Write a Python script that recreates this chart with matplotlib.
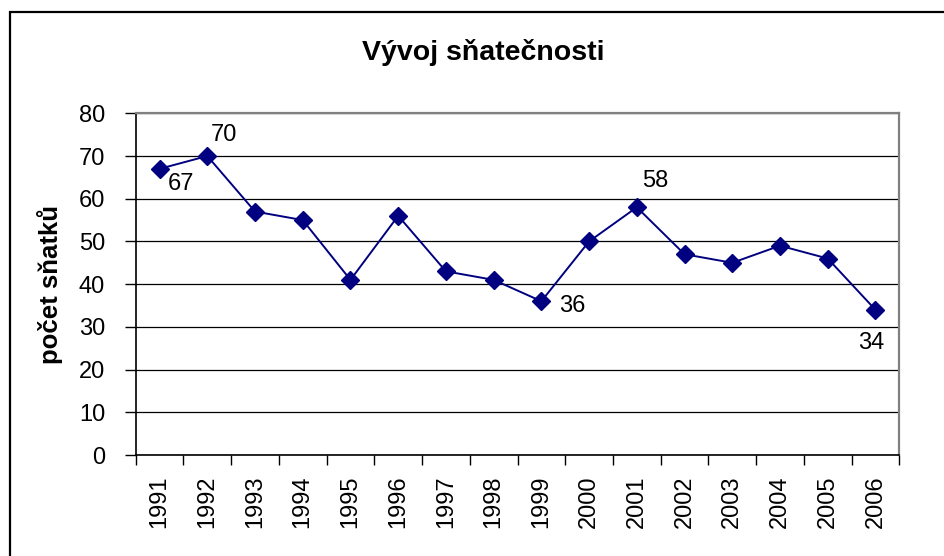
import matplotlib
matplotlib.use("Agg")
import matplotlib.pyplot as plt
from matplotlib.patches import Rectangle

plt.rcParams['font.family'] = ['Liberation Sans', 'DejaVu Sans']

years = ['1991', '1992', '1993', '1994', '1995', '1996', '1997', '1998',
         '1999', '2000', '2001', '2002', '2003', '2004', '2005', '2006']
values = [67, 70, 57, 55, 41, 56, 43, 41, 36, 50, 58, 47, 45, 49, 46, 34]
yticks = [0, 10, 20, 30, 40, 50, 60, 70, 80]
title = 'Vývoj sňatečnosti'
ylabel = 'počet sňatků'

# labelled points: index -> (dx, dy, ha, va) in pixels
label_pos = {
    0: (8, -4, 'left', 'top'),
    1: (3, 10, 'left', 'bottom'),
    8: (18, -5, 'left', 'center'),
    10: (5, 15, 'left', 'bottom'),
    15: (-4, -22, 'center', 'top'),
}

W, H = 944, 556
fig = plt.figure(figsize=(W / 100, H / 100), dpi=100)
fig.patch.set_facecolor('white')

# outer chart frame
fig.add_artist(Rectangle((9.5 / W, 0 - 0.1), 1.2, (H - 11.7) / H + 0.1,
                         transform=fig.transFigure, fill=False,
                         edgecolor='black', linewidth=1.6))

ax = fig.add_axes([135.7 / W, 1 - 455 / H, (899.3 - 135.7) / W, (455 - 113.3) / H])
x = list(range(len(years)))
ax.plot(x, values, color='#000080', linewidth=1.4, marker='D', markersize=9,
        markerfacecolor='#000080', markeredgecolor='#000080', zorder=3)

ax.set_xlim(-0.5, len(years) - 0.5)
ax.set_ylim(yticks[0], yticks[-1])
ax.set_yticks(yticks)
ax.set_yticklabels([str(v) for v in yticks], fontsize=17)
ax.set_xticks([i + 0.5 for i in range(-1, len(years))], minor=False)
ax.set_xticklabels([])
ax.set_xticks(x, minor=True)
ax.set_xticklabels(years, minor=True, rotation=90, fontsize=17)
ax.tick_params(axis='x', which='minor', length=0, pad=15)
ax.tick_params(axis='x', which='major', length=7, width=1, color='black', direction='out')
ax.tick_params(axis='y', length=8, width=1, color='black', direction='out', pad=14)

ax.yaxis.grid(True, color='black', linewidth=0.9)
ax.set_axisbelow(True)
for s in ['top', 'right']:
    ax.spines[s].set_color('#808080')
    ax.spines[s].set_linewidth(1.6)
ax.spines['left'].set_color('black')
ax.spines['left'].set_linewidth(1.2)
ax.spines['bottom'].set_color('black')
ax.spines['bottom'].set_linewidth(1.2)

for i, (dx, dy, ha, va) in label_pos.items():
    ax.annotate(str(values[i]), (x[i], values[i]), xytext=(dx, dy),
                textcoords='offset pixels', ha=ha, va=va, fontsize=17,
                color='black')

fig.text(483 / W, 1 - 52 / H, title, ha='center', va='center',
         fontsize=20.5, fontweight='bold')
fig.text(50 / W, 1 - 285 / H, ylabel, ha='center', va='center',
         rotation=90, fontsize=18.5, fontweight='bold')

fig.savefig('out.png', dpi=100)
